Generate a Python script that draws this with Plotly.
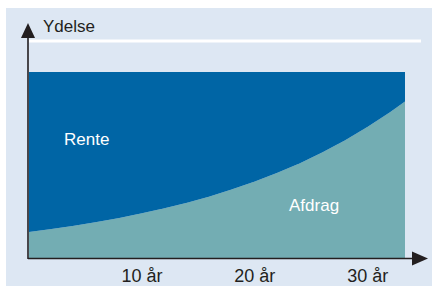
import plotly.graph_objects as go

# --- data ---
years = [0, 2, 4, 6, 8, 10, 12, 14, 16, 18, 20, 22, 24, 26, 28, 30, 32, 33.3]
afdrag = [14.0, 15.6, 17.4, 19.3, 21.5, 24.0, 26.7, 29.7, 33.1, 36.9, 41.1,
          45.8, 51.0, 56.8, 63.3, 70.5, 78.5, 84.2]   # % of ydelse
ydelse = [100] * len(years)                            # constant payment
rente = [y - a for y, a in zip(ydelse, afdrag)]
tick_vals = [10, 20, 30]
tick_text = ["10 år", "20 år", "30 år"]

W, H = 432, 286
def px(x):
    return x / W
def py(y):
    return (H - y) / H

DARK = "#0065a5"
TEAL = "#73adb3"
PANEL = "#dde7f3"
INK = "#231f20"
FONT = "Liberation Sans, Arial, sans-serif"

fig = go.Figure()
fig.add_trace(go.Scatter(x=years, y=afdrag, stackgroup="one", mode="none",
                         fillcolor=TEAL, name="Afdrag", hoverinfo="skip"))
fig.add_trace(go.Scatter(x=years, y=rente, stackgroup="one", mode="none",
                         fillcolor=DARK, name="Rente", hoverinfo="skip"))

shapes = [
    # panel background
    dict(type="rect", xref="paper", yref="paper", x0=px(6), x1=1, y0=0, y1=py(8),
         fillcolor=PANEL, line=dict(width=0), layer="below"),
    # white top line
    dict(type="line", xref="paper", yref="paper", x0=px(29), x1=px(421),
         y0=py(41), y1=py(41), line=dict(color="white", width=3)),
    # y axis line
    dict(type="line", xref="paper", yref="paper", x0=px(28), x1=px(28),
         y0=py(259), y1=py(36), line=dict(color=INK, width=1.6)),
    # x axis line
    dict(type="line", xref="paper", yref="paper", x0=px(28), x1=px(414),
         y0=py(258.5), y1=py(258.5), line=dict(color=INK, width=1.6)),
    # y arrow head
    dict(type="path", xref="paper", yref="paper",
         path=f"M {px(28)} {py(23)} L {px(35)} {py(38)} L {px(21)} {py(38)} Z",
         fillcolor=INK, line=dict(width=0)),
    # x arrow head
    dict(type="path", xref="paper", yref="paper",
         path=f"M {px(428)} {py(258.5)} L {px(412)} {py(251.5)} L {px(412)} {py(265.5)} Z",
         fillcolor=INK, line=dict(width=0)),
]

annotations = [
    dict(text="Ydelse", xref="paper", yref="paper", x=px(41), y=py(27),
         xanchor="left", yanchor="middle", showarrow=False,
         font=dict(size=17, color=INK, family=FONT)),
    dict(text="Rente", xref="paper", yref="paper", x=px(86.5), y=py(139.5),
         xanchor="center", yanchor="middle", showarrow=False,
         font=dict(size=17, color="white", family=FONT)),
    dict(text="Afdrag", xref="paper", yref="paper", x=px(313.5), y=py(205),
         xanchor="center", yanchor="middle", showarrow=False,
         font=dict(size=17, color="white", family=FONT)),
]

fig.update_layout(
    width=W, height=H,
    margin=dict(l=0, r=0, t=0, b=0),
    paper_bgcolor="white",
    plot_bgcolor="rgba(0,0,0,0)",
    showlegend=False,
    shapes=shapes,
    annotations=annotations,
    xaxis=dict(domain=[px(29), px(405)], range=[0, 33.3],
               tickvals=tick_vals, ticktext=tick_text, ticks="",
               ticklabelstandoff=5,
               showgrid=False, zeroline=False, showline=False,
               tickfont=dict(size=18, color=INK, family=FONT),
               fixedrange=True),
    yaxis=dict(domain=[py(258), py(72)], range=[0, 100],
               showticklabels=False, showgrid=False, zeroline=False,
               showline=False, ticks="", fixedrange=True),
)

fig.write_html("out.html", config={"displayModeBar": False},
               post_script="document.body.style.margin='0';")
